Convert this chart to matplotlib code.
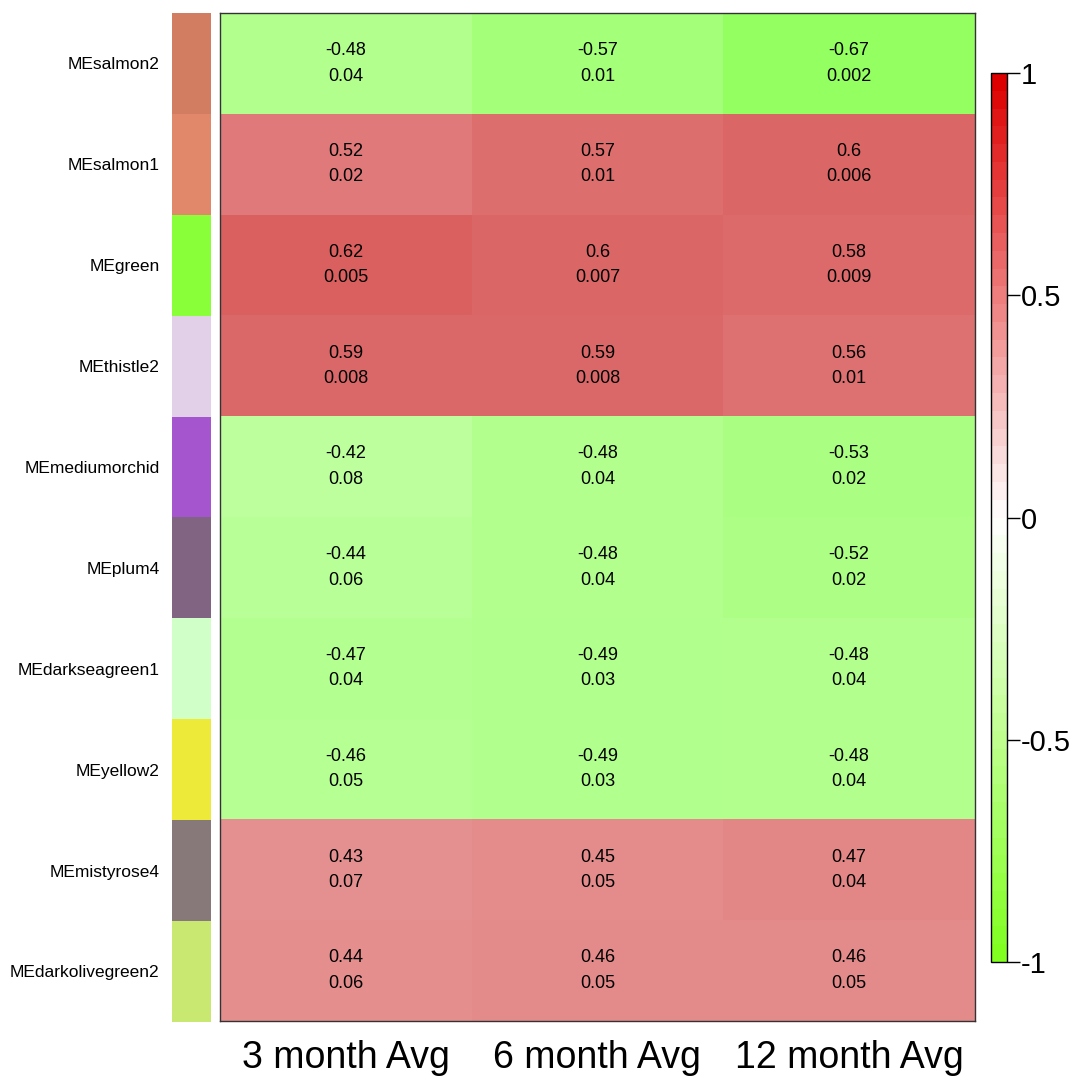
import numpy as np
import matplotlib
matplotlib.use('Agg')
import matplotlib.pyplot as plt
from matplotlib.colors import LinearSegmentedColormap, ListedColormap, Normalize
from matplotlib.cm import ScalarMappable

plt.rcParams['font.family'] = ['Liberation Sans Narrow', 'Liberation Sans', 'DejaVu Sans']

modules = ['MEsalmon2', 'MEsalmon1', 'MEgreen', 'MEthistle2', 'MEmediumorchid',
           'MEplum4', 'MEdarkseagreen1', 'MEyellow2', 'MEmistyrose4', 'MEdarkolivegreen2']
module_colors = ['#D27D61', '#E2886A', '#88FF38', '#E2CFE8', '#A555CE',
                 '#806482', '#D0FFC8', '#EDEA3A', '#877979', '#C8E872']
traits = ['3 month Avg', '6 month Avg', '12 month Avg']

cor = [
    [-0.48, -0.57, -0.67],
    [0.52, 0.57, 0.6],
    [0.62, 0.6, 0.58],
    [0.59, 0.59, 0.56],
    [-0.42, -0.48, -0.53],
    [-0.44, -0.48, -0.52],
    [-0.47, -0.49, -0.48],
    [-0.46, -0.49, -0.48],
    [0.43, 0.45, 0.47],
    [0.44, 0.46, 0.46],
]
pval = [
    ['0.04', '0.01', '0.002'],
    ['0.02', '0.01', '0.006'],
    ['0.005', '0.007', '0.009'],
    ['0.008', '0.008', '0.01'],
    ['0.08', '0.04', '0.02'],
    ['0.06', '0.04', '0.02'],
    ['0.04', '0.03', '0.04'],
    ['0.05', '0.03', '0.04'],
    ['0.07', '0.05', '0.04'],
    ['0.06', '0.05', '0.05'],
]

cell_cmap = LinearSegmentedColormap.from_list('gwr', ['#5FFF14', '#FFFFFF', '#C30000'], N=256)
bar_cmap = LinearSegmentedColormap.from_list('gwr_bar', ['#80FF20', '#FFFFFF', '#DD0000'], N=50)

fig = plt.figure(figsize=(10.78, 10.83), dpi=100)

# heatmap
ax = fig.add_axes([0.204, 0.0573, 0.7004, 0.9307])
data = np.array(cor)
nrow, ncol = data.shape
ax.pcolormesh(np.arange(ncol + 1), np.arange(nrow + 1), data, cmap=cell_cmap, vmin=-1, vmax=1)
ax.set_xlim(0, ncol)
ax.set_ylim(nrow, 0)
for i in range(nrow):
    for j in range(ncol):
        txt = f"{cor[i][j]:g}\n{pval[i][j]}"
        ax.text(j + 0.5, i + 0.5, txt, ha='center', va='center', fontsize=13, linespacing=1.65)
ax.set_yticks([])
ax.set_xticks(np.arange(ncol) + 0.5)
ax.set_xticklabels(traits, fontsize=27)
ax.tick_params(axis='x', length=0, pad=14)
for s in ax.spines.values():
    s.set_linewidth(1.0)
    s.set_color('#333333')

# module colour strip
ax2 = fig.add_axes([0.1596, 0.0564, 0.0362, 0.9316])
ax2.pcolormesh(np.arange(2), np.arange(nrow + 1), np.arange(nrow).reshape(-1, 1),
               cmap=ListedColormap(module_colors), vmin=-0.5, vmax=nrow - 0.5)
ax2.set_xlim(0, 1)
ax2.set_ylim(nrow, 0)
ax2.set_xticks([])
ax2.set_yticks(np.arange(nrow) + 0.5)
ax2.set_yticklabels(modules, fontsize=12.5)
ax2.tick_params(axis='y', length=0, pad=9)
for s in ax2.spines.values():
    s.set_visible(False)

# colour bar
cax = fig.add_axes([0.9193, 0.1117, 0.0148, 0.8209])
sm = ScalarMappable(norm=Normalize(-1, 1), cmap=bar_cmap)
cb = fig.colorbar(sm, cax=cax, ticks=[-1, -0.5, 0, 0.5, 1])
cb.ax.set_yticklabels(['-1', '-0.5', '0', '0.5', '1'], fontsize=21)
cb.ax.tick_params(length=9, width=1, pad=1)
cb.outline.set_linewidth(1)

fig.savefig('out.png', dpi=100)
